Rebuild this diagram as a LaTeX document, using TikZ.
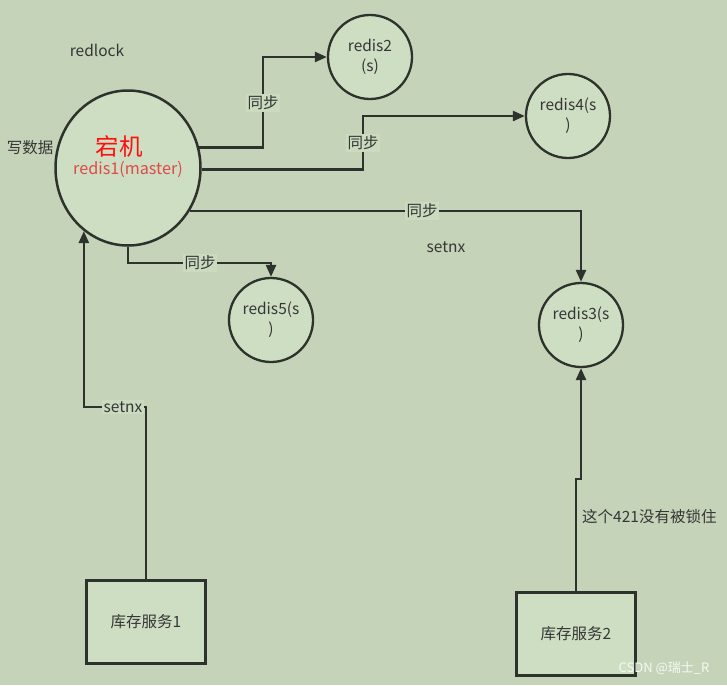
\documentclass[tikz,border=0pt]{standalone}
\usepackage{fontspec}
\setmainfont{Noto Sans CJK SC}
\usetikzlibrary{shapes.geometric,arrows.meta}
\definecolor{bg}{HTML}{C5D4B8}
\definecolor{nf}{HTML}{CEDEC2}
\definecolor{ln}{HTML}{2E322C}
\definecolor{tx}{HTML}{363636}
\definecolor{red1}{HTML}{FF1010}
\definecolor{red2}{HTML}{DD4A4A}
\newcommand{\fs}{\fontsize{15.5}{20}\selectfont}
\begin{document}
\begin{tikzpicture}[x=1pt,y=-1pt,
  circ/.style={circle, draw=ln, line width=2.3pt, fill=nf, minimum size=84pt, inner sep=0pt, align=center, text=tx, font=\fs},
  boxnode/.style={rectangle, draw=ln, line width=2.5pt, fill=nf, minimum width=119pt, minimum height=83pt, inner sep=0pt, text=tx, font=\fs},
  arr/.style={draw=ln, line width=2.5pt, -{Triangle[length=12pt,width=10pt]}},
  lbl/.style={fill=nf!70!bg, inner sep=1.5pt, text=tx, font=\fs},
  txt/.style={text=tx, font=\fs, inner sep=0pt}]
\useasboundingbox (0,0) rectangle (727,685);
\fill[bg] (0,0) rectangle (727,685);

% nodes
\node[ellipse, draw=ln, line width=2.5pt, fill=nf, minimum width=145pt, minimum height=155pt, inner sep=0pt] (r1) at (128,168) {};
\node[text=red1, font=\fontsize{23.5}{26}\selectfont, inner sep=0pt] (down) at (119,147) {宕机};
\node[text=red2, font=\fontsize{16.2}{18}\selectfont, inner sep=0pt] (m) at (128,169) {redis1(master)};
\node[circ] (r2) at (370,57) {redis2\\(s)};
\node[circ] (r4) at (568,116) {redis4(s\\)};
\node[circ] (r5) at (271,320) {redis5(s\\)};
\node[circ] (r3) at (581,325) {redis3(s\\)};
\node[boxnode] (b1) at (146,622) {库存服务1};
\node[boxnode] (b2) at (576,634) {库存服务2};

% free texts
\node[txt] (redlock) at (97,50) {redlock};
\node[txt] (write) at (30,148) {写数据};
\node[txt] (setnx2) at (446,247) {setnx};
\node[txt, anchor=west] (note) at (582,517) {这个421没有被锁住};
\node[text=white!85!bg, font=\fontsize{13}{15}\selectfont, inner sep=0pt] (wm) at (664,668) {CSDN @瑞士\_R};

% bend points
\coordinate (k2) at (263,103);
\coordinate (k4) at (363,143);
\coordinate (k5) at (271,263);
\coordinate (k1) at (123,407);
\coordinate (k3) at (576,479);

% connectors
\draw[arr] (r1.16) -| (k2) |- (r2.west);
\draw[arr] (r1.-1.6) -| (k4) |- (r4.west);
\draw[arr] (r1.-35.5) -| (r3.north);
\draw[arr] (r1.south) |- (k5) -- (r5.north);
\draw[arr] (b1.north) |- (k1) -| (r1.235);
\draw[arr] (b2.north) -- (k3) -| (r3.south);

% labels
\node[lbl] (l2) at (k2) {同步};
\node[lbl] (l4) at (k4) {同步};
\node[lbl] (l3) at (422,211) {同步};
\node[lbl] (l5) at (200,263) {同步};
\node[lbl] (l1) at (k1) {setnx};
\end{tikzpicture}
\end{document}
